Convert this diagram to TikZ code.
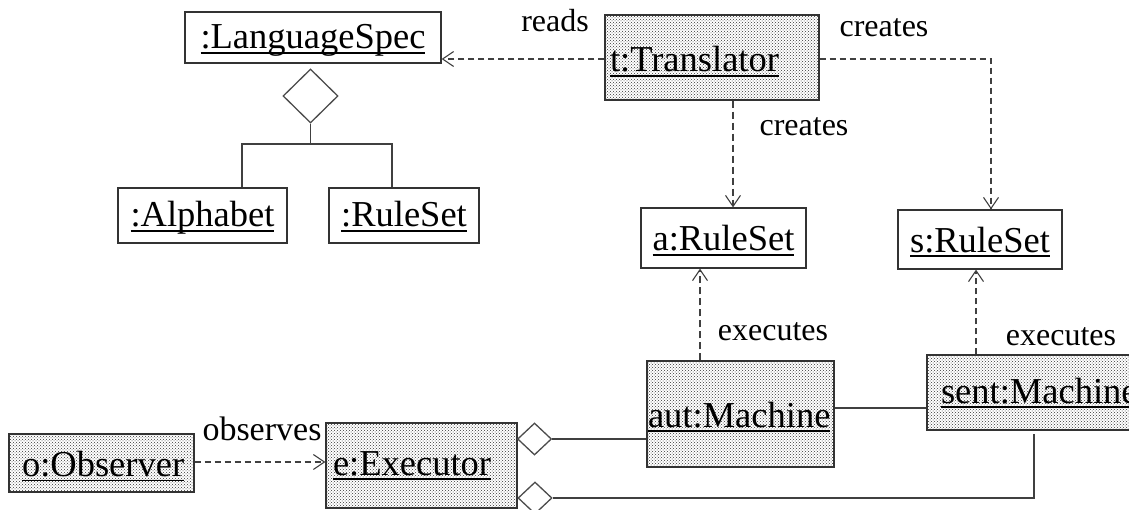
\documentclass[tikz,border=0pt]{standalone}
\usepackage{fontspec}
\setmainfont{Liberation Serif}
\usetikzlibrary{arrows.meta,shapes.geometric,patterns}
\newsavebox\objbox
\newcommand{\objname}[1]{\sbox\objbox{#1}\leavevmode\rlap{\usebox\objbox}\rule[-4.8pt]{\wd\objbox}{1.8pt}}
\tikzset{
  objbox/.style={draw=black!80, line width=1.3pt, font=\fontsize{36.5}{40}\selectfont,
    inner ysep=0pt, text depth=0pt, text height=23pt},
  plainbox/.style={objbox, inner xsep=0pt, align=center},
  shadedbox/.style={objbox, align=left, pattern=crosshatch dots, pattern color=black!80},
  lbl/.style={font=\fontsize{32}{36}\selectfont, inner sep=0pt, anchor=base},
  dep/.style={draw=black!75, line width=1.2pt, dash pattern=on 6pt off 4pt,
    -{Straight Barb[length=11pt,width=15pt,line width=1.1pt]}},
  depb/.style={dep, line width=2pt, dash pattern=on 7pt off 4pt},
  assoc/.style={draw=black!75, line width=1.3pt},
  agg/.style={diamond, draw=black!70, line width=1.3pt, inner sep=0pt, fill=white},
}
\begin{document}
\begin{tikzpicture}[x=1pt,y=-1pt]
\useasboundingbox (0,0) rectangle (1129,510);
\clip (0,0) rectangle (1129,510);

% plain boxes
\node[plainbox, text width=256pt, minimum height=51pt] (ls) at (313,37.5) {\objname{:LanguageSpec}};
\node[plainbox, text width=169pt, minimum height=55pt] (al) at (202.5,215.5) {\objname{:Alphabet}};
\node[plainbox, text width=150pt, minimum height=55pt] (rs) at (404,215.5) {\objname{:RuleSet}};
\node[plainbox, text width=165pt, minimum height=60pt, text height=26pt] (ar) at (723.5,238) {\objname{a:RuleSet}};
\node[plainbox, text width=164pt, minimum height=59pt, text height=26pt] (sr) at (980,239.5) {\objname{s:RuleSet}};

% shaded boxes
\node[shadedbox, inner xsep=5pt, text width=204pt, minimum height=85pt, text height=29pt] (tr) at (712,57.5) {\objname{t:Translator}};
\node[shadedbox, inner xsep=1pt, text width=185pt, minimum height=106pt, text height=26pt] (aut) at (740.5,414) {\objname{aut:Machine}};
\node[shadedbox, inner xsep=14pt, text width=195pt, minimum height=75pt, text height=21pt] (sent) at (1038.5,392.5) {\objname{sent:Machine}};
\node[shadedbox, inner xsep=13pt, text width=159pt, minimum height=58pt, text height=27pt] (ob) at (101.5,463) {\objname{o:Observer}};
\node[shadedbox, inner xsep=7pt, text width=177pt, minimum height=85pt, text height=19pt] (ex) at (421.5,465.5) {\objname{e:Executor}};

% aggregation diamonds
\node[agg, minimum width=55pt, minimum height=54pt] (d1) at (310.5,96) {};
\node[agg, minimum width=34pt, minimum height=32pt] (d2) at (534.5,439) {};
\node[agg, minimum width=34pt, minimum height=32pt] (d3) at (535,498) {};

% helper coordinates
\coordinate (jL) at (242,144);
\coordinate (jR) at (392,144);
\coordinate (hR) at (0,59);
\coordinate (xS) at (991,0);
\coordinate (xA) at (733,0);
\coordinate (xE) at (700,0);
\coordinate (xF) at (976,0);
\coordinate (hO) at (0,462);
\coordinate (hM) at (0,408);
\coordinate (sb) at (1034,434);

% composition tree
\draw[assoc] (d1.south) -- (d1.south |- jL);
\draw[assoc] (jL |- al.north) -- (jL) -- (jR) -- (jR |- rs.north);

% solid associations
\draw[assoc] (d2.east) -- (aut.west |- d2.east);
\draw[assoc] (aut.east |- hM) -- (sent.west |- hM);
\draw[assoc] (d3.east) -| (sb);

% dependencies
\draw[dep] (tr.west |- hR) -- (ls.east |- hR);
\draw[dep] (tr.east |- hR) -| (sr.north -| xS);
\draw[depb] (tr.south -| xA) -- (ar.north -| xA);
\draw[depb] (aut.north -| xE) -- (ar.south -| xE);
\draw[dep] (sent.north -| xF) -- (sr.south -| xF);
\draw[dep] (ob.east |- hO) -- (ex.west |- hO);

% labels
\node[lbl] (lreads) at (555,32) {reads};
\node[lbl] (lcr1) at (884,37) {creates};
\node[lbl] (lcr2) at (804,136) {creates};
\node[lbl] (lex1) at (773,341) {executes};
\node[lbl] (lex2) at (1061,345) {executes};
\node[lbl, font=\fontsize{34}{38}\selectfont] (lobs) at (262,440) {observes};
\end{tikzpicture}
\end{document}
